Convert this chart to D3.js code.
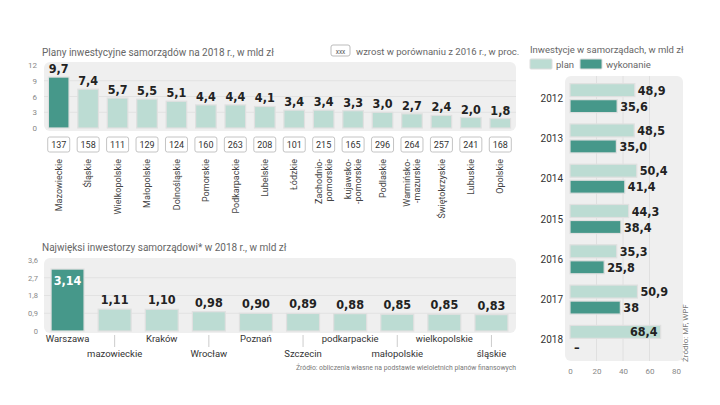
<!DOCTYPE html>
<html><head><meta charset="utf-8">
<script src="https://cdn.jsdelivr.net/npm/d3@7"></script>
<style>
body{margin:0;background:#fff;}
svg{display:block;}
.t{font-family:Roboto,"Liberation Sans",sans-serif;}
.v{font-family:"DejaVu Sans Condensed","DejaVu Sans",sans-serif;font-stretch:condensed;font-weight:bold;}
</style></head>
<body>
<svg id="c" width="720" height="405"></svg>
<script>
// ---- Data ----
const regions = ["Mazowieckie","Śląskie","Wielkopolskie","Małopolskie","Dolnośląskie","Pomorskie","Podkarpackie","Lubelskie","Łódzkie","Zachodnio-|pomorskie","kujawsko-|-pomorskie","Podlaskie","Warmińsko-|-mazurskie","Świętokrzyskie","Lubuskie","Opolskie"];
const regionValues = [9.7,7.4,5.7,5.5,5.1,4.4,4.4,4.1,3.4,3.4,3.3,3.0,2.7,2.4,2.0,1.8];
const regionGrowth = [137,158,111,129,124,160,263,208,101,215,165,296,264,257,241,168];
const regionTicks = [0,3,6,9,12];

const investors = ["Warszawa","mazowieckie","Kraków","Wrocław","Poznań","Szczecin","podkarpackie","małopolskie","wielkopolskie","śląskie"];
const investorValues = [3.14,1.11,1.10,0.98,0.90,0.89,0.88,0.85,0.85,0.83];
const investorTicks = [0,0.9,1.8,2.7,3.6];

const years = ["2012","2013","2014","2015","2016","2017","2018"];
const planValues = [48.9,48.5,50.4,44.3,35.3,50.9,68.4];
const doneValues = [35.6,35.0,41.4,38.4,25.8,38,null];
const doneLabels = ["35,6","35,0","41,4","38,4","25,8","38","–"];
const yearTicks = [0,20,40,60,80];

const DARK = "#46988a", LIGHT = "#bcdcd3", BG = "#efefef";
const fmt = (v,d) => v.toFixed(d).replace(".", ",");
const svg = d3.select("#c");

// ---- Chart 1 ----
const x1 = d3.scaleBand().domain(regions).range([44,515]).paddingInner(0.3).paddingOuter(0.15);
const y1 = d3.scaleLinear().domain([0,12]).range([128,65]);
svg.append("text").attr("class","t").attr("x",42).attr("y",56).attr("font-size",10).attr("fill","#666")
  .text("Plany inwestycyjne samorządów na 2018 r., w mld zł");
svg.append("rect").attr("x",331).attr("y",45).attr("width",19).attr("height",11).attr("rx",2)
  .attr("fill","#fff").attr("stroke","#bbb");
svg.append("text").attr("class","t").attr("x",340.5).attr("y",53.5).attr("text-anchor","middle").attr("font-size",6.5).attr("fill","#555").text("xxx");
svg.append("text").attr("class","t").attr("x",356).attr("y",55).attr("font-size",9.5).attr("fill","#666")
  .text("wzrost w porównaniu z 2016 r., w proc.");
svg.append("rect").attr("x",44).attr("y",62).attr("width",472).attr("height",69).attr("rx",6).attr("fill",BG);
svg.append("g").selectAll("line").data(regionTicks.slice(1,4)).join("line")
  .attr("x1",44).attr("x2",516).attr("y1",d=>y1(d)).attr("y2",d=>y1(d)).attr("stroke","#e2e2e2");
const ax1 = svg.append("g").attr("transform","translate(40,0)")
  .call(d3.axisLeft(y1).tickValues(regionTicks).tickSize(0).tickFormat(d=>d));
ax1.select(".domain").remove();
ax1.selectAll("text").attr("class","t").attr("font-size",8).attr("fill","#888");
svg.append("g").selectAll("rect").data(regions).join("rect")
  .attr("x",d=>x1(d)).attr("width",x1.bandwidth())
  .attr("y",(d,i)=>y1(regionValues[i])).attr("height",(d,i)=>y1(0)-y1(regionValues[i]))
  .attr("fill",(d,i)=>i===0?DARK:LIGHT).attr("stroke","#e0e0e0").attr("stroke-width",1.2);
svg.append("g").selectAll("text").data(regions).join("text").attr("class","v")
  .attr("x",d=>x1(d)+x1.bandwidth()/2).attr("y",(d,i)=>y1(regionValues[i])-4)
  .attr("text-anchor","middle").attr("font-size",12.5).attr("fill","#222")
  .text((d,i)=>fmt(regionValues[i],1));
const gb = svg.append("g").selectAll("g").data(regions).join("g")
  .attr("transform",d=>`translate(${x1(d)+x1.bandwidth()/2},0)`);
gb.append("rect").attr("x",-11).attr("y",137).attr("width",22).attr("height",15).attr("rx",2)
  .attr("fill","#fff").attr("stroke","#c4c4c4");
gb.append("text").attr("class","t").attr("y",148).attr("text-anchor","middle").attr("font-size",9).attr("fill","#333")
  .text((d,i)=>regionGrowth[i]);
const rl = svg.append("g").selectAll("text").data(regions).join("text").attr("class","t")
  .attr("transform",d=>`translate(${x1(d)+x1.bandwidth()/2},159) rotate(-90)`)
  .attr("text-anchor","end").attr("font-size",9).attr("fill","#444");
rl.each(function(d){
  const parts = d.split("|"); const sel = d3.select(this);
  parts.forEach((p,k)=>{
    const base = parts.length===1 ? 3.2 : (k===0 ? -1.8 : 8.2);
    sel.append("tspan").attr("x",0).attr("y",base).text(p);
  });
});

// ---- Chart 2 ----
const x2 = d3.scaleBand().domain(investors).range([44,515]).paddingInner(0.3).paddingOuter(0.15);
const y2 = d3.scaleLinear().domain([0,3.6]).range([331,260]);
svg.append("text").attr("class","t").attr("x",42).attr("y",251).attr("font-size",10).attr("fill","#666")
  .text("Najwięksi inwestorzy samorządowi* w 2018 r., w mld zł");
svg.append("rect").attr("x",44).attr("y",258).attr("width",472).attr("height",75).attr("rx",6).attr("fill",BG);
svg.append("g").selectAll("line").data(investorTicks.slice(1,4)).join("line")
  .attr("x1",44).attr("x2",516).attr("y1",d=>y2(d)).attr("y2",d=>y2(d)).attr("stroke","#e2e2e2");
const ax2 = svg.append("g").attr("transform","translate(41,0)")
  .call(d3.axisLeft(y2).tickValues(investorTicks).tickSize(0).tickFormat(d=>d===0?"0":fmt(d,1)));
ax2.select(".domain").remove();
ax2.selectAll("text").attr("class","t").attr("font-size",7.5).attr("fill","#888");
svg.append("g").selectAll("rect").data(investors).join("rect")
  .attr("x",d=>x2(d)).attr("width",x2.bandwidth())
  .attr("y",(d,i)=>y2(investorValues[i])).attr("height",(d,i)=>y2(0)-y2(investorValues[i]))
  .attr("fill",(d,i)=>i===0?DARK:LIGHT).attr("stroke","#e0e0e0").attr("stroke-width",1.2);
svg.append("g").selectAll("text").data(investors).join("text").attr("class","v")
  .attr("x",d=>x2(d)+x2.bandwidth()/2)
  .attr("y",(d,i)=>i===0 ? y2(investorValues[i])+16 : y2(investorValues[i])-5)
  .attr("text-anchor","middle").attr("font-size",12.5).attr("fill",(d,i)=>i===0?"#fff":"#222")
  .text((d,i)=>fmt(investorValues[i],2));
svg.append("g").selectAll("line").data(investors.filter((d,i)=>i%2===1)).join("line")
  .attr("x1",d=>x2(d)+x2.bandwidth()/2).attr("x2",d=>x2(d)+x2.bandwidth()/2)
  .attr("y1",335).attr("y2",347).attr("stroke","#ccc");
svg.append("g").selectAll("text").data(investors).join("text").attr("class","t")
  .attr("x",d=>x2(d)+x2.bandwidth()/2).attr("y",(d,i)=>i%2===0?342:357)
  .attr("text-anchor","middle").attr("font-size",9.5).attr("fill","#333").text(d=>d);
svg.append("text").attr("class","t").attr("x",516).attr("y",370).attr("text-anchor","end")
  .attr("font-size",6.8).attr("fill","#777").text("Źródło: obliczenia własne na podstawie wieloletnich planów finansowych");

// ---- Chart 3 ----
const x3 = d3.scaleLinear().domain([0,80]).range([570,676]);
const y3 = d3.scaleBand().domain(years).range([78,360]);
svg.append("text").attr("class","t").attr("x",530).attr("y",53).attr("font-size",9.5).attr("fill","#666")
  .text("Inwestycje w samorządach, w mld zł");
svg.append("rect").attr("x",530).attr("y",59).attr("width",22).attr("height",10).attr("rx",1).attr("fill",LIGHT).attr("stroke","#ddd");
svg.append("text").attr("class","t").attr("x",556).attr("y",67.5).attr("font-size",9.5).attr("fill","#666").text("plan");
svg.append("rect").attr("x",580).attr("y",59).attr("width",22).attr("height",10).attr("rx",1).attr("fill",DARK).attr("stroke","#ddd");
svg.append("text").attr("class","t").attr("x",606).attr("y",67.5).attr("font-size",9.5).attr("fill","#666").text("wykonanie");
svg.append("rect").attr("x",565).attr("y",76).attr("width",118).attr("height",285).attr("rx",6).attr("fill",BG);
svg.append("g").selectAll("line").data(yearTicks.slice(1,4)).join("line")
  .attr("x1",d=>x3(d)).attr("x2",d=>x3(d)).attr("y1",76).attr("y2",361).attr("stroke","#e0e0e0");
const ax3 = svg.append("g").attr("transform","translate(0,365)")
  .call(d3.axisBottom(x3).tickValues(yearTicks).tickSize(0).tickFormat(d=>d));
ax3.select(".domain").remove();
ax3.selectAll("text").attr("class","t").attr("font-size",8).attr("fill","#888");
const bh = 13;
const yg = svg.append("g").selectAll("g").data(years).join("g")
  .attr("transform",d=>`translate(0,${y3(d)+y3.bandwidth()/2})`);
yg.append("text").attr("class","t").attr("x",563).attr("y",3.5).attr("text-anchor","end")
  .attr("font-size",10).attr("fill","#333").text(d=>d);
yg.append("rect").attr("x",x3(0)).attr("y",-bh-1.5).attr("height",bh)
  .attr("width",(d,i)=>x3(planValues[i])-x3(0)).attr("fill",LIGHT).attr("stroke","#e0e0e0").attr("stroke-width",1.2);
yg.filter((d,i)=>doneValues[i]!==null).append("rect").attr("x",x3(0)).attr("y",1.5).attr("height",bh)
  .attr("width",d=>x3(doneValues[years.indexOf(d)])-x3(0)).attr("fill",DARK).attr("stroke","#e0e0e0").attr("stroke-width",1.2);
yg.append("text").attr("class","v").attr("font-size",12.5).attr("fill","#222")
  .attr("x",(d,i)=>planValues[i]>60 ? x3(planValues[i])-3 : x3(planValues[i])+3)
  .attr("text-anchor",(d,i)=>planValues[i]>60?"end":"start")
  .attr("y",-bh/2-1.5+4.5).text((d,i)=>fmt(planValues[i],1));
yg.append("text").attr("class","v").attr("font-size",12.5).attr("fill","#222")
  .attr("x",(d,i)=>doneValues[i]===null ? x3(0)+4 : x3(doneValues[i])+3)
  .attr("y",bh/2+1.5+4.5)
  .text((d,i)=>doneLabels[i]);
svg.append("text").attr("class","t").attr("transform","translate(688,362) rotate(-90)")
  .attr("font-size",8).attr("fill","#777").text("Źródło: MF, WPF");
</script>
</body></html>
